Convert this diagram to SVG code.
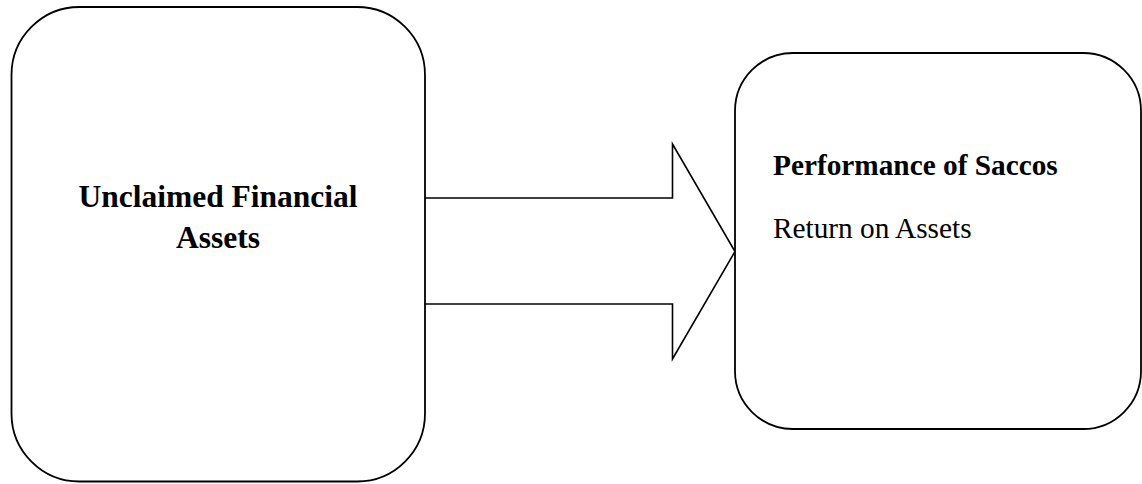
<svg xmlns="http://www.w3.org/2000/svg" width="1142" height="484" viewBox="0 0 1142 484">
<style>
.box{fill:#fff;stroke:#000;stroke-width:1.8}
.arrow{fill:#fff;stroke:#000;stroke-width:1.6;stroke-linejoin:miter}
.t{font-family:"Liberation Serif","Times New Roman",serif;fill:#000}
.b{font-weight:bold}
</style>
<rect width="1142" height="484" fill="#fff"/>
<g id="connectors">
<path class="arrow" d="M425,198 L672.5,198 L672.5,144 L735,251.5 L672.5,359 L672.5,304 L425,304"/>
</g>
<g id="node-unclaimed">
<rect class="box" x="11.5" y="7" width="413.5" height="474.5" rx="68" ry="68"/>
<text class="t b" x="218" y="206.5" font-size="31.5" text-anchor="middle">Unclaimed Financial</text>
<text class="t b" x="218" y="248" font-size="31.5" text-anchor="middle">Assets</text>
</g>
<g id="node-performance">
<rect class="box" x="735" y="53" width="406" height="376" rx="58" ry="58"/>
<text class="t b" x="773" y="175" font-size="29.3">Performance of Saccos</text>
<text class="t" x="773" y="238" font-size="29.3">Return on Assets</text>
</g>
</svg>
